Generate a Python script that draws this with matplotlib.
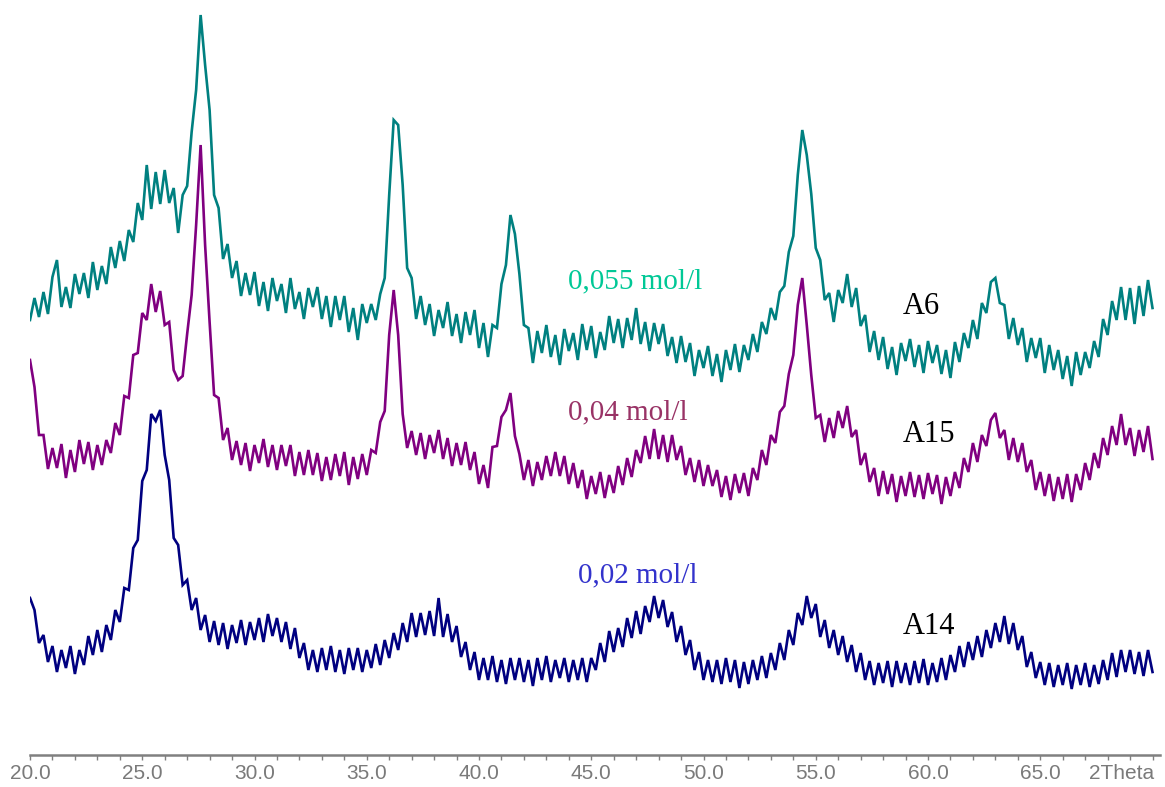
import numpy as np
import matplotlib
matplotlib.use("Agg")
import matplotlib.pyplot as plt

# 2Theta grid, 0.2 deg step from 20 to 70
two_theta = np.linspace(20.0, 70.0, 251)

# intensities (a.u., stacked)
a6 = [435, 457, 438, 463, 441, 478, 495, 448, 468, 447,
      481, 461, 482, 457, 493, 465, 489, 471, 508, 487,
      514, 494, 525, 513, 552, 535, 590, 546, 583, 551,
      585, 552, 567, 522, 560, 569, 623, 665, 740, 690,
      645, 560, 547, 496, 511, 477, 494, 459, 482, 460,
      483, 449, 473, 444, 477, 454, 471, 442, 477, 446,
      463, 436, 467, 448, 468, 436, 459, 428, 459, 435,
      459, 423, 447, 415, 451, 432, 451, 435, 461, 477,
      560, 635, 630, 570, 487, 477, 436, 459, 430, 451,
      419, 445, 427, 453, 419, 441, 412, 443, 420, 445,
      407, 432, 398, 430, 427, 471, 490, 540, 521, 481,
      430, 427, 392, 424, 402, 430, 398, 420, 390, 426,
      404, 422, 395, 431, 405, 429, 397, 423, 405, 439,
      412, 436, 407, 437, 415, 447, 411, 433, 404, 432,
      411, 431, 399, 418, 392, 419, 393, 412, 379, 405,
      387, 409, 379, 401, 373, 405, 385, 411, 383, 410,
      395, 421, 403, 433, 421, 447, 435, 463, 469, 503,
      519, 580, 625, 600, 561, 507, 495, 455, 462, 433,
      465, 452, 481, 448, 467, 429, 440, 403, 424, 395,
      418, 386, 408, 380, 412, 394, 416, 388, 410, 382,
      414, 392, 410, 381, 405, 377, 413, 393, 422, 407,
      435, 416, 452, 442, 473, 477, 452, 450, 416, 437,
      410, 427, 393, 417, 397, 417, 382, 410, 385, 405,
      376, 399, 369, 403, 380, 403, 387, 414, 398, 436,
      420, 454, 435, 468, 435, 467, 431, 469, 439, 475,
      447]

a15 = [395, 368, 320, 320, 286, 307, 287, 311, 277, 305,
       283, 315, 291, 313, 285, 310, 290, 315, 302, 332,
       320, 359, 357, 400, 402, 442, 435, 471, 443, 464,
       430, 433, 385, 375, 379, 421, 460, 530, 610, 510,
       433, 360, 357, 315, 327, 295, 314, 290, 312, 284,
       310, 292, 316, 288, 310, 285, 310, 289, 310, 279,
       303, 280, 305, 280, 302, 274, 298, 275, 301, 279,
       303, 270, 298, 276, 301, 280, 305, 302, 333, 344,
       420, 465, 420, 341, 307, 324, 300, 322, 296, 320,
       302, 325, 296, 317, 289, 312, 290, 313, 285, 303,
       271, 290, 267, 308, 309, 338, 345, 362, 319, 301,
       275, 295, 269, 293, 275, 299, 279, 303, 279, 299,
       271, 292, 267, 285, 256, 279, 261, 283, 257, 280,
       262, 289, 270, 297, 278, 305, 292, 319, 296, 326,
       296, 320, 293, 320, 295, 309, 280, 297, 273, 295,
       269, 290, 269, 285, 258, 279, 255, 281, 262, 282,
       259, 287, 275, 305, 290, 320, 312, 343, 349, 381,
       400, 450, 477, 430, 380, 337, 340, 313, 337, 317,
       344, 327, 349, 318, 325, 290, 302, 273, 287, 259,
       284, 261, 281, 253, 279, 259, 283, 258, 280, 256,
       282, 261, 280, 251, 278, 259, 283, 267, 297, 283,
       312, 293, 320, 309, 335, 342, 317, 325, 295, 317,
       293, 312, 283, 295, 265, 283, 259, 281, 254, 278,
       256, 281, 253, 281, 265, 292, 275, 302, 287, 317,
       300, 329, 310, 341, 310, 327, 299, 325, 303, 329,
       296]

a14 = [157, 145, 112, 120, 93, 109, 83, 105, 87, 109,
       81, 105, 90, 119, 100, 125, 103, 130, 115, 145,
       133, 167, 165, 207, 215, 274, 285, 341, 334, 345,
       300, 275, 217, 210, 170, 175, 145, 157, 125, 140,
       113, 134, 110, 132, 106, 130, 112, 135, 110, 133,
       115, 137, 113, 141, 119, 137, 113, 133, 106, 127,
       97, 112, 85, 105, 83, 107, 85, 109, 83, 105,
       81, 107, 85, 107, 83, 105, 87, 111, 90, 115,
       97, 122, 105, 132, 113, 142, 118, 142, 120, 144,
       119, 157, 118, 141, 113, 129, 98, 113, 85, 103,
       75, 97, 75, 99, 73, 95, 71, 97, 75, 97,
       73, 95, 69, 97, 75, 99, 73, 95, 77, 97,
       73, 95, 75, 97, 73, 97, 85, 112, 93, 124,
       103, 127, 108, 137, 117, 144, 121, 149, 133, 159,
       137, 155, 128, 143, 113, 129, 100, 115, 85, 103,
       75, 95, 73, 95, 71, 97, 73, 95, 67, 93,
       71, 95, 75, 99, 77, 102, 85, 112, 95, 125,
       110, 142, 130, 159, 137, 151, 118, 135, 107, 125,
       100, 119, 93, 110, 83, 102, 75, 94, 70, 92,
       72, 94, 68, 94, 72, 92, 70, 94, 72, 96,
       70, 92, 73, 97, 75, 100, 83, 109, 88, 113,
       95, 119, 98, 125, 107, 132, 113, 139, 111, 132,
       105, 119, 88, 103, 77, 93, 70, 92, 68, 90,
       70, 92, 66, 90, 70, 92, 68, 90, 71, 95,
       75, 102, 78, 105, 83, 105, 81, 103, 79, 105,
       83]

series = [a6, a15, a14]
colors = ["#008080", "#800080", "#000080"]

conc_labels = ["0,055 mol/l", "0,04 mol/l", "0,02 mol/l"]
conc_colors = ["#00c896", "#993366", "#3333cc"]
conc_pos = [(43.96, 474), (43.96, 343), (44.41, 180)]

sample_labels = ["A6", "A15", "A14"]
sample_pos = [(58.89, 449), (58.89, 321), (58.89, 129)]

major_ticks = [20, 25, 30, 35, 40, 45, 50, 55, 60, 65]
major_labels = ["20.0", "25.0", "30.0", "35.0", "40.0", "45.0",
                "50.0", "55.0", "60.0", "65.0"]

W, H = 1165, 787
fig = plt.figure(figsize=(W / 100, H / 100), dpi=100)
ax = fig.add_axes([30 / W, 32 / H, 1130 / W, 755 / H])

for y, c in zip(series, colors):
    ax.plot(two_theta, y, color=c, lw=1.9, solid_joinstyle="miter")

for txt, c, (x, y) in zip(conc_labels, conc_colors, conc_pos):
    ax.text(x, y, txt, color=c, fontsize=21, family="Liberation Serif",
            ha="left", va="center")

for txt, (x, y) in zip(sample_labels, sample_pos):
    ax.text(x, y, txt, color="black", fontsize=22, family="Liberation Serif",
            ha="left", va="center")

ax.set_xlim(20, 20 + 1130 / 22.45)
ax.set_ylim(0, 755)

for s in ["top", "left", "right"]:
    ax.spines[s].set_visible(False)
ax.spines["bottom"].set_color("#808080")
ax.spines["bottom"].set_linewidth(1.8)
ax.set_yticks([])

ax.set_xticks(major_ticks)
ax.set_xticklabels(major_labels, family="Liberation Sans", fontsize=15,
                   color="#7a7a7a")
ax.set_xticks(np.arange(21, 71, 1), minor=True)
ax.tick_params(axis="x", which="both", direction="out", length=3.5,
               width=1, color="#808080", pad=3)

# axis title sits where the 70.0 label would be
ax.text(0.995, -0.012, "2Theta", transform=ax.transAxes,
        ha="right", va="top", family="Liberation Sans", fontsize=15,
        color="#7a7a7a")

fig.savefig("out.png", dpi=100)
